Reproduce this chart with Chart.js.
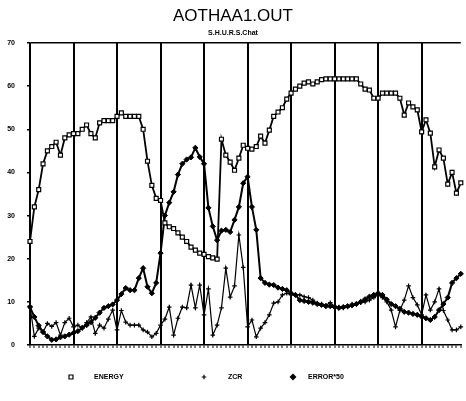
<!DOCTYPE html>
<html>
<head>
<meta charset="utf-8">
<script src="https://cdn.jsdelivr.net/npm/chart.js@4.4.1/dist/chart.umd.min.js"></script>
<style>
  html, body { margin: 0; padding: 0; background: #fff; }
  #wrap { width: 466px; height: 401px; }
</style>
</head>
<body>
<div id="wrap"><canvas id="speech-chart" width="466" height="401"></canvas></div>
<script>
// frame numbers along the x axis
const frames = [];
for (let i = 1; i <= 100; i++) frames.push(String(i));

const yTicks = [0, 10, 20, 30, 40, 50, 60, 70];

const energy = [
  24, 32, 36, 42, 45, 46, 47, 44, 48, 48.7,
  49, 49, 50, 51, 49, 48, 51.5, 52, 52, 52,
  53, 53.8, 53, 53, 53, 53, 50, 42.6, 37, 34,
  33.5, 28.3, 27.4, 27, 26, 25, 24, 22.7, 22, 21.3,
  21, 20.5, 20.2, 19.9, 47.7, 44, 42.4, 40.5, 43.3, 46.3,
  45.6, 45.4, 46, 48.4, 46.8, 49.8, 53, 54, 55, 57,
  58.4, 59.3, 60, 60.7, 61, 60.5, 61, 61.5, 61.7, 61.7,
  61.7, 61.7, 61.7, 61.7, 61.7, 61.7, 60.5, 59.3, 59.1, 57.2,
  57.2, 58.4, 58.4, 58.4, 58.4, 57.2, 53.3, 56.1, 55.2, 54.5,
  49.4, 52.2, 49.1, 41.3, 45.2, 43.3, 37.3, 40, 35.2, 37.6
];

const zcr = [
  9, 2, 3.9, 3, 5, 4.3, 5.2, 2.3, 5.2, 6.2,
  4.2, 4.6, 3.9, 5.2, 6.5, 2.7, 4.6, 3.9, 6, 8.1,
  3.5, 8, 5.3, 4.6, 4.6, 4.6, 3.5, 3, 1.9, 2.7,
  4.6, 6, 8.8, 2.3, 6.2, 8.8, 8.6, 13.9, 8.6, 13.9,
  7, 13, 2.3, 4.6, 8.6, 17.8, 11.1, 13.7, 25.5, 18,
  4.2, 5.8, 1.9, 3.9, 5.2, 7, 9.7, 10, 11.6, 12,
  11.6, 11.6, 11.6, 11.2, 11, 10.4, 9.7, 9.5, 9.2, 9.8,
  9, 8.8, 8.6, 8.8, 9.5, 9.5, 9.8, 10, 10.4, 11,
  11.6, 11, 10, 8.1, 4.2, 8, 10.4, 13.7, 11, 9.3,
  7, 11.6, 8.1, 10, 13, 8, 5.8, 3.5, 3.5, 4.2
];

const error50 = [
  8.8, 6.5, 4.5, 3, 2, 1.2, 1.3, 1.8, 2, 2.4,
  2.8, 3.2, 4, 4.6, 5.3, 6.3, 7.5, 8.6, 9, 9.4,
  10.4, 11.8, 13.2, 12.7, 12.7, 15.5, 17.8, 13.5, 12, 14.4,
  21.3, 30, 33, 35.5, 39.5, 42, 43, 43.5, 45.7, 43.6,
  42, 31.8, 27.5, 24.3, 26.5, 26.7, 26.2, 29, 32, 37.5,
  39, 32, 26.7, 15.5, 14.4, 14, 13.9, 13.3, 13, 12.7,
  12, 11.6, 10.4, 10.2, 10, 9.8, 9.5, 9.3, 9, 9,
  8.8, 8.6, 8.8, 9, 9.2, 9.5, 10, 10.6, 11.2, 11.6,
  12, 11.6, 10.5, 9.5, 9, 8.4, 7.7, 7.5, 7.2, 7,
  6.6, 6.2, 5.8, 6.5, 8.1, 9.5, 11, 14.4, 15.5, 16.5
];

// legend drawn under the plot, spread out like the printout
const bottomLegend = {
  id: "bottomLegend",
  afterDraw(chart) {
    const ctx = chart.ctx;
    const spots = [[71, 94], [204, 228], [293, 308]];
    ctx.save();
    ctx.font = "bold 7px 'Liberation Sans'";
    ctx.textBaseline = "middle";
    chart.data.datasets.forEach((ds, i) => {
      const [mx, tx] = spots[i];
      ctx.strokeStyle = "#000";
      ctx.fillStyle = ds.pointBackgroundColor;
      ctx.lineWidth = 1.2;
      Chart.helpers.drawPoint(ctx, {
        pointStyle: ds.pointStyle, radius: ds.pointRadius, rotation: 0, borderWidth: 1.2
      }, mx, 377);
      ctx.fillStyle = "#000";
      ctx.fillText(ds.label, tx, 377);
    });
    ctx.restore();
  }
};

let ctx = document.getElementById("speech-chart").getContext("2d");

let data = {
  labels: frames,
  datasets: [
    {
      label: "ENERGY",
      data: energy,
      borderColor: "#000",
      borderWidth: 1.8,
      pointStyle: "rect",
      pointRadius: 2.8,
      pointBorderWidth: 1.2,
      pointBackgroundColor: "#fff",
      pointBorderColor: "#000",
    },
    {
      label: "ZCR",
      data: zcr,
      borderColor: "#000",
      borderWidth: 1.2,
      pointStyle: "cross",
      pointRadius: 2.3,
      pointBorderWidth: 1.2,
      pointBackgroundColor: "#000",
      pointBorderColor: "#000",
    },
    {
      label: "ERROR*50",
      data: error50,
      borderColor: "#000",
      borderWidth: 2,
      pointStyle: "rectRot",
      pointRadius: 2.6,
      pointBorderWidth: 1,
      pointBackgroundColor: "#000",
      pointBorderColor: "#000",
    },
  ],
};

let options = {
  responsive: false,
  animation: false,
  devicePixelRatio: 1,
  layout: { padding: { top: 0, bottom: 53, left: 0, right: 0 } },
  plugins: {
    legend: { display: false },
    tooltip: { enabled: false },
    title: {
      display: true,
      text: "AOTHAA1.OUT",
      color: "#000",
      font: { family: "'Liberation Sans'", size: 17, weight: "normal" },
      padding: { top: 6, bottom: 0 },
    },
    subtitle: {
      display: true,
      text: "S.H.U.R.S.Chat",
      color: "#000",
      font: { family: "'Liberation Sans'", size: 7, weight: "bold" },
      padding: { top: 2, bottom: 6.2 },
    },
  },
  scales: {
    x: {
      offset: false,
      ticks: { display: false, autoSkip: false },
      grid: {
        // heavy line every 10 frames, small tick for each frame
        color: (c) => (c.index % 10 === 0 ? "#000" : "rgba(0,0,0,0)"),
        lineWidth: 2,
        tickColor: "#000",
        tickWidth: 1,
        tickLength: 3,
      },
      border: { color: "#000", width: 1.5 },
    },
    y: {
      min: 0,
      max: 70,
      afterBuildTicks: (axis) => {
        axis.ticks = yTicks.map((v) => ({ value: v }));
      },
      afterFit: (axis) => {
        axis.width = 30;
      },
      ticks: {
        color: "#000",
        padding: 12,
        font: { family: "'Liberation Sans'", size: 7, weight: "bold" },
      },
      grid: {
        color: (c) => (c.tick && c.tick.value === 70 ? "#000" : "rgba(0,0,0,0)"),
        lineWidth: 1.5,
        tickColor: "#000",
        tickLength: 3,
      },
      border: { color: "#000", width: 1.5 },
    },
  },
};

new Chart(ctx, {
  type: "line",
  data: data,
  options: options,
  plugins: [bottomLegend],
});
</script>
</body>
</html>
